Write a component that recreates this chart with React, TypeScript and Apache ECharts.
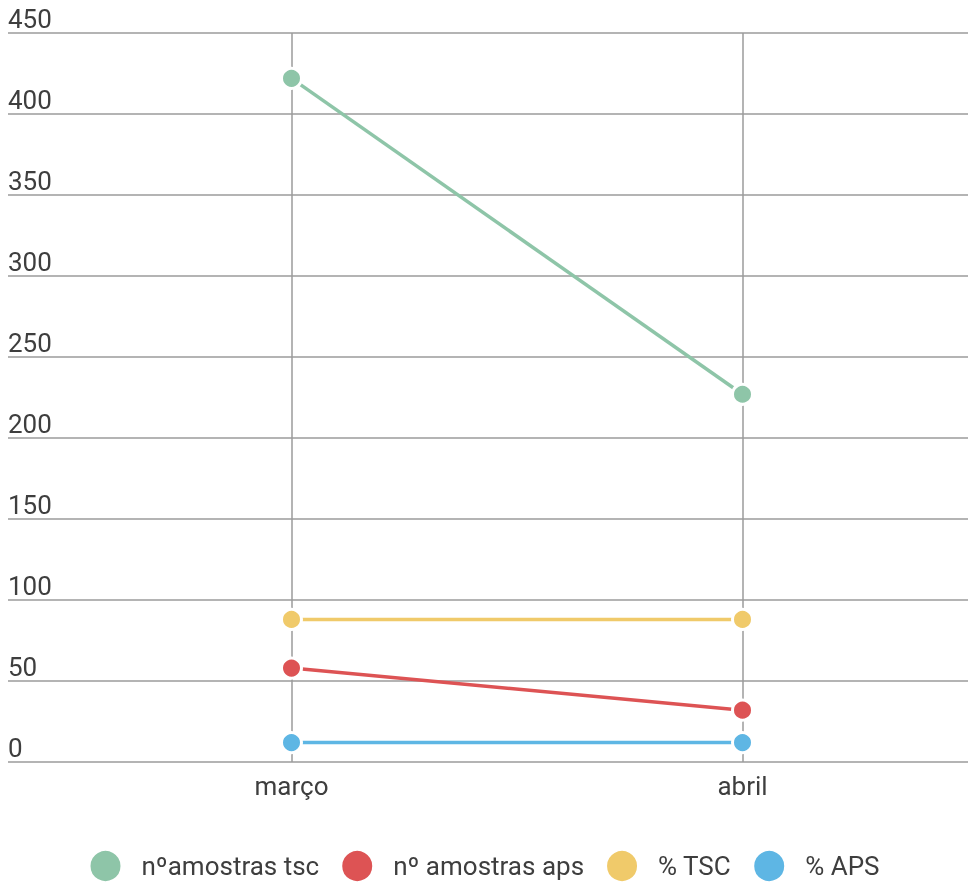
import React, { useEffect, useRef } from "react";
import * as echarts from "echarts";

const categories = ["março", "abril"];
const seriesNames = ["nºamostras tsc", "nº amostras aps", "% TSC", "% APS"];
const amostrasTsc = [422, 227];
const amostrasAps = [58, 32];
const pctTsc = [88, 88];
const pctAps = [12, 12];
const colors = ["#8ec5a8", "#dd5354", "#f0ca6a", "#5eb6e4"];

export default function App() {
  const ref = useRef<HTMLDivElement>(null);
  useEffect(() => {
    if (!ref.current) return;
    const chart = echarts.init(ref.current, undefined, { renderer: "svg" });
    const font = "Roboto, 'Noto Sans', sans-serif";
    const gridColor = "#9b9b9b";
    const textColor = "#3e3e3e";
    const mk = (name: string, data: number[], color: string) => ({
      name,
      type: "line",
      xAxisIndex: 1,
      yAxisIndex: 1,
      data,
      z: 3,
      symbol: "circle",
      symbolSize: 20,
      showSymbol: true,
      lineStyle: { color, width: 3.5 },
      itemStyle: { color, borderColor: "#ffffff", borderWidth: 3 },
      emphasis: { disabled: true },
    });
    chart.setOption({
      animation: false,
      color: colors,
      grid: [
        { left: 8, right: 0, top: 33, bottom: 125 },
        { left: 66, right: 0, top: 33, bottom: 125 },
      ],
      xAxis: [
        {
          type: "category",
          gridIndex: 0,
          data: categories,
          show: false,
        },
        {
          type: "category",
          gridIndex: 1,
          data: categories,
          boundaryGap: true,
          axisLine: { show: false },
          axisTick: { show: false, alignWithLabel: true },
          splitLine: {
            show: true,
            alignWithLabel: true,
            lineStyle: { color: gridColor, width: 1.5 },
          },
          axisLabel: {
            fontFamily: font,
            fontSize: 26,
            color: textColor,
            margin: 11,
          },
        },
      ],
      yAxis: [
        {
          type: "value",
          gridIndex: 0,
          min: 0,
          max: 450,
          interval: 50,
          axisLine: { show: false },
          axisTick: { show: false },
          splitLine: { show: true, lineStyle: { color: gridColor, width: 1.5 } },
          axisLabel: {
            inside: true,
            margin: 0,
            verticalAlign: "bottom",
            align: "left",
            fontFamily: font,
            fontSize: 26,
            color: textColor,
            padding: [0, 0, 1, 0],
          },
        },
        {
          type: "value",
          gridIndex: 1,
          min: 0,
          max: 450,
          interval: 50,
          show: false,
          splitLine: { show: false },
        },
      ],
      legend: {
        bottom: 4,
        left: "center",
        padding: 0,
        icon: "circle",
        itemWidth: 32,
        itemHeight: 32,
        itemGap: 21,
        data: seriesNames,
        textStyle: {
          fontFamily: font,
          fontSize: 26,
          color: textColor,
          padding: [0, 0, 0, 15],
        },
      },
      series: [
        mk(seriesNames[0], amostrasTsc, colors[0]),
        mk(seriesNames[1], amostrasAps, colors[1]),
        mk(seriesNames[2], pctTsc, colors[2]),
        mk(seriesNames[3], pctAps, colors[3]),
      ],
    });
    return () => chart.dispose();
  }, []);
  return (
    <div
      ref={ref}
      style={{ position: "fixed", left: 0, top: 0, width: 968, height: 887 }}
    />
  );
}
